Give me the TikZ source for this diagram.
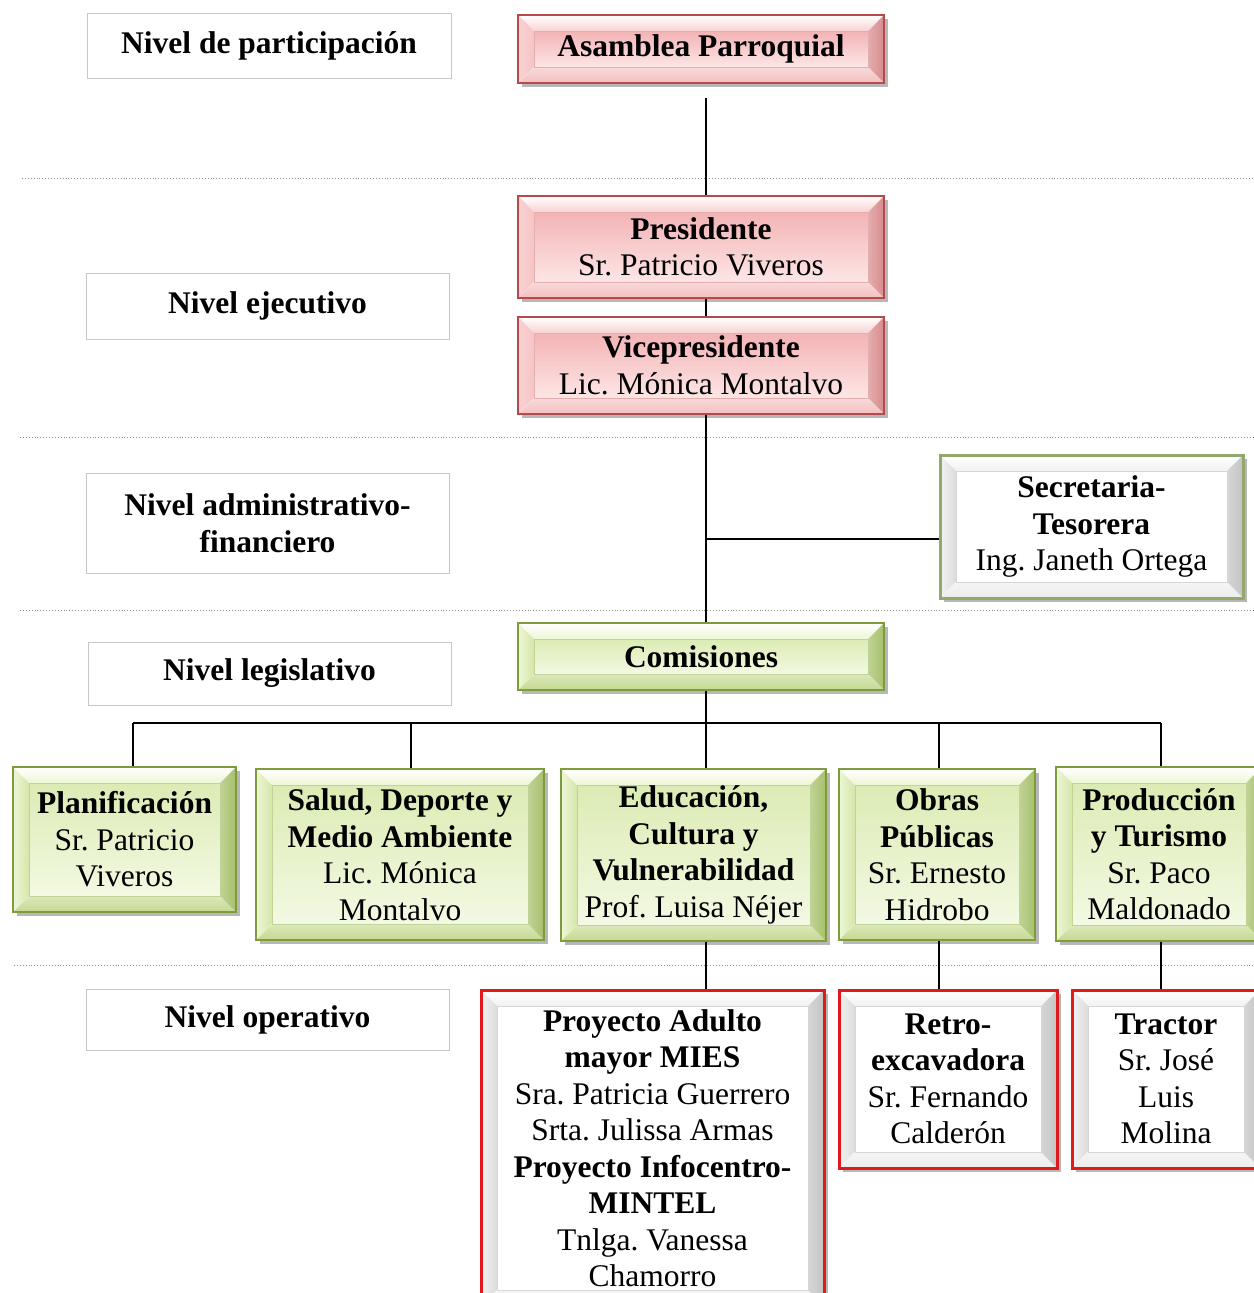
\documentclass[tikz,border=0pt]{standalone}
\usepackage{fontspec}
\setmainfont{Liberation Serif}
\usetikzlibrary{shadows,calc}
\definecolor{pkborder}{HTML}{B5494B}
\definecolor{gnborder}{HTML}{7E9C3E}
\definecolor{rdborder}{HTML}{E01A1A}
\definecolor{sgborder}{HTML}{93A86C}
\definecolor{pkA}{HTML}{F3B3B5}
\definecolor{pkB}{HTML}{FDE6E6}
\definecolor{pkC}{HTML}{F8D2D3}
\definecolor{pkD}{HTML}{F6C4C5}
\definecolor{pkE}{HTML}{F3C0C1}
\definecolor{pkF}{HTML}{D88A8C}
\definecolor{gnA}{HTML}{DCEBB4}
\definecolor{gnB}{HTML}{F3F9E3}
\definecolor{gnC}{HTML}{EEF6D6}
\definecolor{gnD}{HTML}{D5E6A8}
\definecolor{gnE}{HTML}{C4D98F}
\definecolor{gnF}{HTML}{A6C06A}
\definecolor{wtC}{HTML}{F2F2F2}
\definecolor{wtD}{HTML}{DCDCDC}
\definecolor{wtE}{HTML}{EDEDED}
\definecolor{wtF}{HTML}{C4C4C4}
\newcommand{\bvd}{16pt}
\tikzset{
  every node/.style={font=\fontsize{31.5}{36.5}\selectfont, align=center, inner sep=0pt},
  sz/.style 2 args={minimum width=#1 pt, minimum height=#2 pt},
  lvl/.style={draw=black!22, line width=1pt, fill=white},
  bev/.style n args={6}{%
    path picture={
      \path (path picture bounding box.north west) coordinate (bvnw)
            (path picture bounding box.north east) coordinate (bvne)
            (path picture bounding box.south east) coordinate (bvse)
            (path picture bounding box.south west) coordinate (bvsw);
      \path ([xshift=\bvd,yshift=-\bvd]bvnw) coordinate (bvinw)
            ([xshift=-\bvd,yshift=-\bvd]bvne) coordinate (bvine)
            ([xshift=-\bvd,yshift=\bvd]bvse) coordinate (bvise)
            ([xshift=\bvd,yshift=\bvd]bvsw) coordinate (bvisw);
      \fill[top color=#1, bottom color=#2] (bvinw) rectangle (bvise);
      \fill[top color=white, bottom color=#3] (bvnw) -- (bvne) -- (bvine) -- (bvinw) -- cycle;
      \fill[left color=#3, right color=#4] (bvnw) -- (bvinw) -- (bvisw) -- (bvsw) -- cycle;
      \fill[top color=#5!60!white, bottom color=#5] (bvsw) -- (bvisw) -- (bvise) -- (bvse) -- cycle;
      \fill[left color=#6!70!white, right color=#6] (bvne) -- (bvse) -- (bvise) -- (bvine) -- cycle;
      \draw[#6!70!white, line width=0.5pt] (bvinw) rectangle (bvise);
    }},
  shd/.style={drop shadow={shadow xshift=4pt, shadow yshift=-4pt, opacity=0.4, fill=black!70}},
  pinkbox/.style={shd, draw=pkborder, line width=1.6pt, fill=white,
    bev={pkA}{pkB}{pkC}{pkD}{pkE}{pkF}},
  greenbox/.style={shd, draw=gnborder, line width=1.6pt, fill=white,
    bev={gnA}{gnB}{gnC}{gnD}{gnE}{gnF}},
  redbox/.style={shd, draw=rdborder, line width=3pt, fill=white,
    bev={white}{white}{wtC}{wtD}{wtE}{wtF}},
  secbox/.style={shd, draw=sgborder, line width=3pt, fill=white,
    bev={white}{white}{wtC}{wtD}{wtE}{wtF}},
  conn/.style={line width=1.8pt, black},
  sep/.style={black!45, dotted, line width=0.9pt}
}
\begin{document}
\frenchspacing
\begin{tikzpicture}[x=1pt, y=-1pt]
\useasboundingbox[fill=white] (0,0) rectangle (1253,1293);

% separators
\draw[sep] (22,178) -- (1253,178);
\draw[sep] (20,437) -- (1253,437);
\draw[sep] (20,610) -- (1253,610);
\draw[sep] (14,965) -- (1253,965);

% level labels
\node[lvl, sz={364}{65}] (lp) at (269,45.5) {\textbf{Nivel de participación}};
\node[lvl, sz={363}{66}] (le) at (267.5,306) {\textbf{Nivel ejecutivo}};
\node[lvl, sz={363}{100}] (la) at (267.5,523) {\textbf{Nivel administrativo-}\\\textbf{financiero}};
\node[lvl, sz={363}{63}] (ll) at (269.5,673.5) {\textbf{Nivel legislativo}};
\node[lvl, sz={363}{61}] (lo) at (267.5,1019.5) {\textbf{Nivel operativo}};

% coordinates for connectors
\coordinate (spine) at (706,0);
\coordinate (top) at (706,98);
\coordinate (j1) at (706,539);
\coordinate (busL) at (133,723);
\coordinate (busS) at (411,723);
\coordinate (busC) at (706,723);
\coordinate (busO) at (939,723);
\coordinate (busR) at (1161,723);

% boxes
\node[pinkbox, sz={366}{68}] (asam) at (701,49) {\textbf{Asamblea Parroquial}};
\node[pinkbox, sz={366}{102}] (pres) at (701,247) {\textbf{Presidente}\\Sr. Patricio Viveros};
\node[pinkbox, sz={366}{97}] (vice) at (701,365.5) {\textbf{Vicepresidente}\\Lic. Mónica Montalvo};
\node[secbox, sz={303}{143}] (sec) at (1091.5,526.5) {\textbf{Secretaria-}\\\textbf{Tesorera}\\Ing. Janeth Ortega};
\node[greenbox, sz={366}{67}] (com) at (701,656.5) {\textbf{Comisiones}};

\node[greenbox, sz={223}{145}] (plan) at (124.5,839.5) {\textbf{Planificación}\\Sr. Patricio\\Viveros};
\node[greenbox, sz={288}{171}] (salud) at (400,854.5) {\textbf{Salud, Deporte y}\\\textbf{Medio Ambiente}\\Lic. Mónica\\Montalvo};
\node[greenbox, sz={265}{172}] (edu) at (693.5,855) {\textbf{Educación,}\\\textbf{Cultura y}\\\textbf{Vulnerabilidad}\\Prof. Luisa Néjer};
\node[greenbox, sz={196}{171}] (obras) at (937,854.5) {\textbf{Obras}\\\textbf{Públicas}\\Sr. Ernesto\\Hidrobo};
\node[greenbox, sz={206}{174}] (prod) at (1159,854) {\textbf{Producción}\\\textbf{y Turismo}\\Sr. Paco\\Maldonado};

\node[redbox, sz={343}{316}] (proy) at (652.5,1148) {\textbf{Proyecto Adulto}\\\textbf{mayor MIES}\\Sra. Patricia Guerrero\\Srta. Julissa Armas\\\textbf{Proyecto Infocentro-}\\\textbf{MINTEL}\\Tnlga. Vanessa\\Chamorro};
\node[redbox, sz={218}{178}] (retro) at (948,1079) {\textbf{Retro-}\\\textbf{excavadora}\\Sr. Fernando\\Calderón};
\node[redbox, sz={188}{178}] (trac) at (1166,1079) {\textbf{Tractor}\\Sr. José\\Luis\\Molina};

% connectors
\draw[conn] (top) -- (spine |- pres.north);
\draw[conn] (spine |- pres.south) -- (spine |- vice.north);
\draw[conn] (spine |- vice.south) -- (spine |- com.north);
\draw[conn] (j1) -- (j1 -| sec.west);
\draw[conn] (spine |- com.south) -- (busC);
\draw[conn] (busL) -- (busR);
\draw[conn] (busL) -- (busL |- plan.north);
\draw[conn] (busS) -- (busS |- salud.north);
\draw[conn] (busC) -- (busC |- edu.north);
\draw[conn] (busO) -- (busO |- obras.north);
\draw[conn] (busR) -- (busR |- prod.north);
\draw[conn] (busC |- edu.south) -- (busC |- proy.north);
\draw[conn] (busO |- obras.south) -- (busO |- retro.north);
\draw[conn] (busR |- prod.south) -- (busR |- trac.north);
\end{tikzpicture}
\end{document}
